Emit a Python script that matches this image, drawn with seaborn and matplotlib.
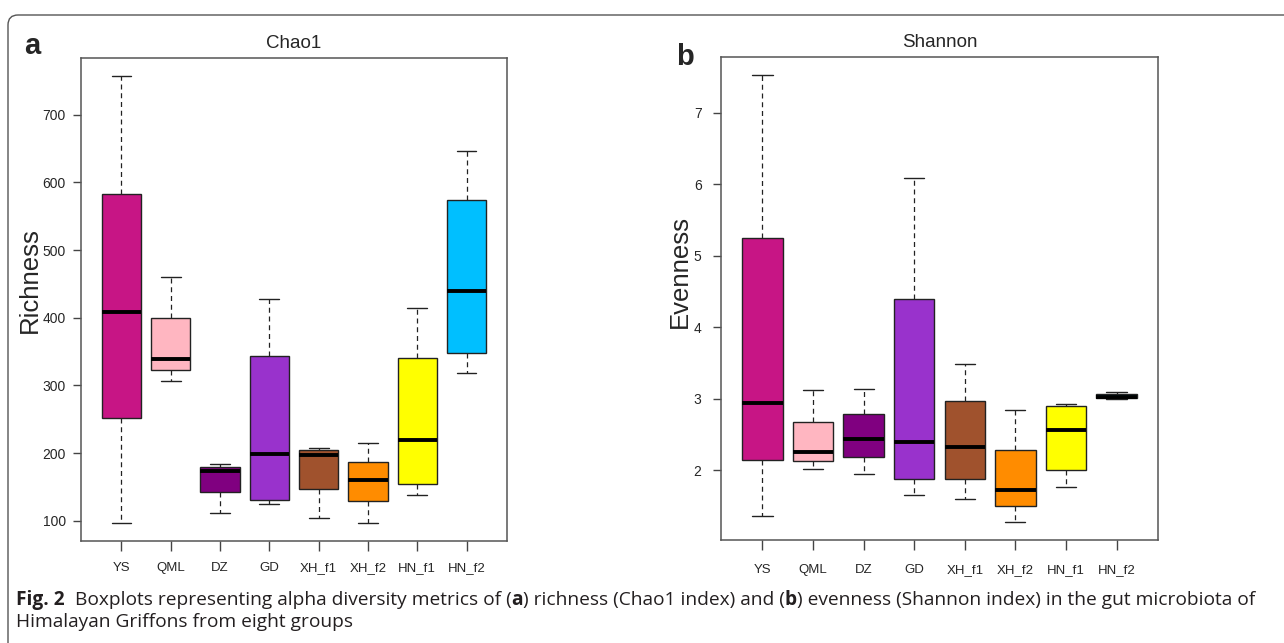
import numpy as np
import matplotlib
matplotlib.use("Agg")
import matplotlib.pyplot as plt
from matplotlib.patches import FancyBboxPatch
from matplotlib.transforms import IdentityTransform
import pandas as pd
import seaborn as sns

## grupos y colores
groups = ["YS", "QML", "DZ", "GD", "XH_f1", "XH_f2", "HN_f1", "HN_f2"]
colors = ["#C71585", "#FFB6C1", "#800080", "#9932CC", "#A0522D", "#FF8C00", "#FFFF00", "#00BFFF"]

## Chao1 (min, Q1, mediana, Q3, max)
chao_min = [96, 307, 111, 125, 104, 97, 138, 319]
chao_q1 = [252, 323, 142, 130, 147, 129, 155, 348]
chao_med = [408, 339, 173, 199, 197, 160, 219, 439]
chao_q3 = [583, 400, 179, 344, 205, 187, 340, 574]
chao_max = [757, 461, 184, 428, 208, 215, 414, 647]

## Shannon (min, Q1, mediana, Q3, max)
shan_min = [1.36, 2.02, 1.95, 1.66, 1.60, 1.27, 1.77, 3.00]
shan_q1 = [2.14, 2.13, 2.19, 1.88, 1.88, 1.50, 2.01, 3.01]
shan_med = [2.94, 2.25, 2.44, 2.40, 2.32, 1.73, 2.56, 3.03]
shan_q3 = [5.24, 2.68, 2.79, 4.40, 2.97, 2.28, 2.90, 3.07]
shan_max = [7.53, 3.12, 3.14, 6.09, 3.49, 2.84, 2.92, 3.10]


def tabla(mins, q1s, meds, q3s, maxs):
    filas = []
    for g, a, b, c, d, e in zip(groups, mins, q1s, meds, q3s, maxs):
        for v in (a, b, c, d, e):
            filas.append((g, v))
    return pd.DataFrame(filas, columns=["grupo", "valor"])


chao = tabla(chao_min, chao_q1, chao_med, chao_q3, chao_max)
shan = tabla(shan_min, shan_q1, shan_med, shan_q3, shan_max)

sns.set_theme(style="white")
plt.rcParams['font.family'] = ['Liberation Sans', 'DejaVu Sans']

fig = plt.figure(figsize=(12.84, 6.43), dpi=100)
ax1 = fig.add_axes([81 / 1284, 102 / 643, 426 / 1284, 483 / 643])
ax2 = fig.add_axes([721 / 1284, 103 / 643, 437 / 1284, 483 / 643])

box_kws = dict(x="grupo", y="valor", hue="grupo", palette=colors, order=groups, hue_order=groups,
               width=0.8, whis=(0, 100), saturation=1, linecolor="#222222", linewidth=1,
               fliersize=0, legend=False,
               medianprops=dict(color="black", linewidth=2.8),
               whiskerprops=dict(color="#222222", linewidth=0.9, linestyle=(0, (4, 3))),
               capprops=dict(color="#222222", linewidth=1))

sns.boxplot(data=chao, ax=ax1, **box_kws)
sns.boxplot(data=shan, ax=ax2, **box_kws)

ax1.set_ylim(70, 784)
ax1.set_yticks([100, 200, 300, 400, 500, 600, 700])
ax2.set_ylim(1.025, 7.776)
ax2.set_yticks([2, 3, 4, 5, 6, 7])

for ax, titulo, ylab, lx, ly, ypad, xpad in [(ax1, "Chao1", "Richness", -0.092, 0.54, 5, 8),
                                            (ax2, "Shannon", "Evenness", -0.066, 0.555, 8, 10.5)]:
    ax.set_xlim(-0.82, 7.82)
    ax.set_title(titulo, fontsize=13.5, pad=7)
    ax.set_xlabel("")
    ax.set_ylabel(ylab, fontsize=18.5)
    ax.yaxis.set_label_coords(lx, ly)
    ax.tick_params(axis="y", length=6, width=1, color="#444444", pad=ypad, labelsize=10, left=True)
    ax.tick_params(axis="x", length=7, width=1, color="#444444", pad=xpad, labelsize=9.5, bottom=True)
    for s in ax.spines.values():
        s.set_color("#555555")
        s.set_linewidth(1.1)

fig.text(32 / 1284, 1 - 54 / 643, "a", fontsize=21, weight="bold", ha="center", va="baseline")
fig.text(685 / 1284, 1 - 65 / 643, "b", fontsize=21, weight="bold", ha="center", va="baseline")

# marco redondeado (solo arriba e izquierda visibles)
marco = FancyBboxPatch((8, -100), 1500, 643 - 15 + 100, boxstyle="round,pad=0,rounding_size=10",
                       transform=IdentityTransform(), facecolor="none", edgecolor="#555555", linewidth=1)
fig.add_artist(marco)

# leyenda de la figura
cap_font = ['Open Sans', 'DejaVu Sans']
cap_size = 13.8
renderer = fig.canvas.get_renderer()
linea1 = [("Fig. 2", "bold"), ("  Boxplots representing alpha diversity metrics of (", "normal"),
          ("a", "bold"), (") richness (Chao1 index) and (", "normal"), ("b", "bold"),
          (") evenness (Shannon index) in the gut microbiota of", "normal")]
x = 16
for txt, w in linea1:
    t = fig.text(x / 1284, 1 - 605 / 643, txt, fontsize=cap_size, weight=w, family=cap_font,
                 ha="left", va="baseline", color="#231f20")
    x = t.get_window_extent(renderer).x1
fig.text(16 / 1284, 1 - 627 / 643, "Himalayan Griffons from eight groups", fontsize=cap_size,
         family=cap_font, ha="left", va="baseline", color="#231f20")

fig.savefig("out.png", dpi=100)
